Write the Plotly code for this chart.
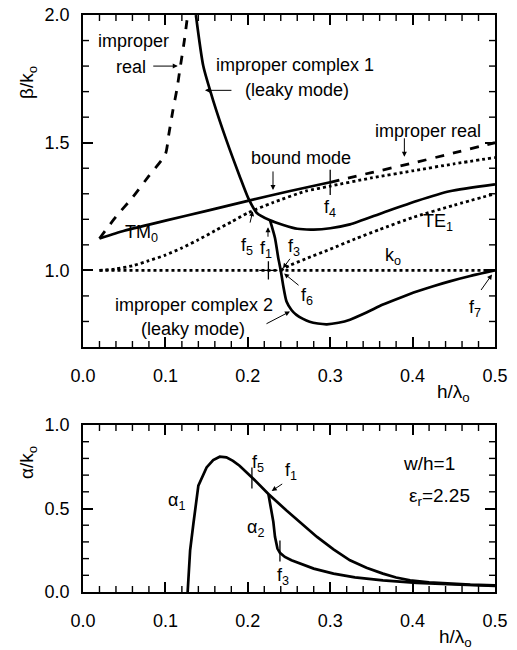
import plotly.graph_objects as go

# ---------------- data ----------------
# top panel: beta/k0 vs h/lambda0
bound_x = [0.02, 0.05, 0.10, 0.15, 0.20, 0.25, 0.30]
bound_y = [1.125, 1.155, 1.195, 1.233, 1.272, 1.310, 1.345]

imp_real_r_x = [0.30, 0.35, 0.40, 0.45, 0.50]
imp_real_r_y = [1.345, 1.383, 1.42, 1.46, 1.50]

imp_real_l_x = [0.02, 0.04, 0.06, 0.08, 0.10, 0.104, 0.109, 0.114, 0.118, 0.123, 0.127]
imp_real_l_y = [1.125, 1.21, 1.285, 1.37, 1.455, 1.53, 1.625, 1.71, 1.795, 1.90, 2.0]

complex1_x = [0.137, 0.146, 0.158, 0.174, 0.19, 0.201, 0.211, 0.227, 0.243, 0.26, 0.28,
              0.30, 0.324, 0.364, 0.405, 0.445, 0.50]
complex1_y = [2.0, 1.80, 1.665, 1.51, 1.37, 1.28, 1.225, 1.196, 1.178, 1.163, 1.16,
              1.165, 1.18, 1.226, 1.272, 1.31, 1.337]

complex2_x = [0.227, 0.233, 0.237, 0.240, 0.243, 0.247, 0.253, 0.259, 0.267, 0.275, 0.285,
              0.296, 0.31, 0.324, 0.344, 0.364, 0.385, 0.405, 0.425, 0.445, 0.47, 0.50]
complex2_y = [1.196, 1.127, 1.048, 1.0, 0.94, 0.878, 0.845, 0.826, 0.81, 0.799, 0.792,
              0.789, 0.795, 0.807, 0.835, 0.866, 0.893, 0.917, 0.938, 0.957, 0.978, 1.0]

tm0_x = [0.02, 0.04, 0.06, 0.08, 0.10, 0.12, 0.14, 0.16, 0.18, 0.20, 0.23, 0.27, 0.30,
         0.35, 0.40, 0.45, 0.50]
tm0_y = [1.0, 1.006, 1.018, 1.038, 1.06, 1.088, 1.12, 1.155, 1.19, 1.225, 1.265, 1.31, 1.33,
         1.362, 1.39, 1.417, 1.442]

te1_x = [0.24, 0.25, 0.27, 0.30, 0.33, 0.36, 0.40, 0.45, 0.50]
te1_y = [1.0, 1.018, 1.045, 1.083, 1.123, 1.16, 1.207, 1.255, 1.30]

k0_x = [0.02, 0.50]
k0_y = [1.0, 1.0]

top_marks_x = [0.30]
top_marks_y = [1.345]
cross_x = [0.225]
cross_y = [1.0]

# bottom panel: alpha/k0 vs h/lambda0
alpha1_x = [0.127, 0.128, 0.130, 0.134, 0.140, 0.150, 0.158, 0.166, 0.174, 0.182, 0.19,
            0.207, 0.225, 0.247, 0.263, 0.284, 0.304, 0.324, 0.344, 0.364, 0.38, 0.397,
            0.42, 0.445, 0.47, 0.50]
alpha1_y = [0.0, 0.10, 0.25, 0.41, 0.637, 0.746, 0.79, 0.81, 0.806, 0.785, 0.756,
            0.677, 0.587, 0.488, 0.418, 0.33, 0.255, 0.19, 0.145, 0.11, 0.087, 0.07,
            0.058, 0.05, 0.044, 0.04]

alpha2_x = [0.225, 0.228, 0.231, 0.233, 0.236, 0.239, 0.245, 0.253, 0.263, 0.28, 0.304,
            0.33, 0.364, 0.405, 0.45, 0.50]
alpha2_y = [0.587, 0.51, 0.42, 0.33, 0.26, 0.235, 0.21, 0.19, 0.17, 0.14, 0.11,
            0.088, 0.07, 0.055, 0.045, 0.036]

bot_marks_x = [0.205, 0.239]
bot_marks_y = [0.683, 0.245]

# axis ranges and tick positions
x_range = [0, 0.5]
beta_range = [0.7, 2.0]
alpha_range = [0, 1.0]
x_minor_ticks = [round(i * 0.02, 2) for i in range(1, 25) if i % 5]
beta_minor_ticks = [round(0.7 + i * 0.1, 1) for i in range(1, 13) if (i + 2) % 5]
alpha_minor_ticks = [round(i * 0.1, 1) for i in range(1, 10) if i % 5]

# ---------------- figure ----------------
FONT = "Liberation Sans, Arial, Helvetica, sans-serif"
fig = go.Figure()

def line(x, y, dash="solid", width=2.7, xa="x", ya="y", shape="spline"):
    fig.add_trace(go.Scatter(x=x, y=y, mode="lines", xaxis=xa, yaxis=ya,
                             line=dict(color="black", width=width, dash=dash,
                                       shape=shape, smoothing=0.6),
                             showlegend=False, hoverinfo="skip"))

# top
line(k0_x, k0_y, dash="dot", width=2.8, shape="linear")
line(tm0_x, tm0_y, dash="dot", width=2.8)
line(te1_x, te1_y, dash="dot", width=2.8)
line(bound_x, bound_y)
line(imp_real_r_x, imp_real_r_y, dash="dash", width=2.8)
line(imp_real_l_x, imp_real_l_y, dash="dash", width=2.8)
line(complex1_x, complex1_y)
line(complex2_x, complex2_y)
fig.add_trace(go.Scatter(x=top_marks_x, y=top_marks_y, mode="markers", xaxis="x", yaxis="y",
                         marker=dict(symbol="line-ns", size=18, line=dict(width=1.3, color="black")),
                         showlegend=False, hoverinfo="skip"))
fig.add_trace(go.Scatter(x=cross_x, y=cross_y, mode="markers", xaxis="x", yaxis="y",
                         marker=dict(symbol="cross-thin", size=13, line=dict(width=1.3, color="black")),
                         showlegend=False, hoverinfo="skip"))

# bottom
line(alpha1_x, alpha1_y, xa="x2", ya="y2", shape="linear")
line(alpha2_x, alpha2_y, xa="x2", ya="y2", shape="linear")
fig.add_trace(go.Scatter(x=bot_marks_x, y=bot_marks_y, mode="markers", xaxis="x2", yaxis="y2",
                         marker=dict(symbol="line-ns", size=15, line=dict(width=1.3, color="black")),
                         showlegend=False, hoverinfo="skip"))

axis_common = dict(showline=True, linecolor="black", linewidth=1.6, mirror="allticks",
                   ticks="inside", ticklen=10, tickwidth=1.5, tickcolor="black",
                   showgrid=False, zeroline=False, automargin=False,
                   ticklabeloverflow="allow",
                   tickfont=dict(family=FONT, size=18, color="black"))

# page has an 8px body margin; figure sized so the plot area lands where the reference has it
W, H = 509, 642
ML, MR, MT, MB = 75, 22, 7, 58
top_dom = [0.4246, 1.0]
bot_dom = [0, 0.2894]

fig.update_layout(
    width=W, height=H,
    margin=dict(l=ML, r=MR, t=MT, b=MB, autoexpand=False),
    paper_bgcolor="white", plot_bgcolor="white",
    font=dict(family=FONT, color="black"),
    xaxis=dict(axis_common, domain=[0, 1], anchor="y", range=x_range, dtick=0.1,
               tickformat=".1f", ticklabelstandoff=12),
    yaxis=dict(axis_common, domain=top_dom, anchor="x", range=beta_range,
               dtick=0.5, tick0=0, tickformat=".1f", ticklabelstandoff=8),
    xaxis2=dict(axis_common, domain=[0, 1], anchor="y2", range=x_range, dtick=0.1,
                tickformat=".1f", ticklabelstandoff=12),
    yaxis2=dict(axis_common, domain=bot_dom, anchor="x2", range=alpha_range,
                dtick=0.5, tickformat=".1f", ticklabelstandoff=8),
)

# short (minor) ticks, drawn inside on all four sides of each panel
TL = 6
shapes = []
def vtick(xr, yr, xv, yv, direction):
    shapes.append(dict(type="line", xref=xr, yref=yr, x0=xv, x1=xv,
                       ysizemode="pixel", yanchor=yv, y0=0, y1=direction * TL,
                       line=dict(color="black", width=1.4)))

def htick(xr, yr, xv, yv, direction):
    shapes.append(dict(type="line", xref=xr, yref=yr, y0=yv, y1=yv,
                       xsizemode="pixel", xanchor=xv, x0=0, x1=direction * TL,
                       line=dict(color="black", width=1.4)))

for xr, yr, yrange in (("x", "y", beta_range), ("x2", "y2", alpha_range)):
    for v in x_minor_ticks:
        vtick(xr, yr, v, yrange[0], 1)
        vtick(xr, yr, v, yrange[1], -1)
for v in beta_minor_ticks:
    htick("x", "y", x_range[0], v, 1)
    htick("x", "y", x_range[1], v, -1)
for v in alpha_minor_ticks:
    htick("x2", "y2", x_range[0], v, 1)
    htick("x2", "y2", x_range[1], v, -1)

anns = []
def text(x, y, s, xr="x", yr="y", size=18, angle=0):
    anns.append(dict(x=x, y=y, xref=xr, yref=yr, text=s, showarrow=False,
                     xanchor="center", yanchor="middle",
                     textangle=angle, font=dict(family=FONT, size=size, color="black")))

def arrow(x, y, ax, ay, xr="x", yr="y"):
    anns.append(dict(x=x, y=y, xref=xr, yref=yr, text="", showarrow=True,
                     ax=ax, ay=ay, axref="pixel", ayref="pixel",
                     arrowhead=2, arrowsize=1, arrowwidth=1, arrowcolor="black"))

# top labels
text(0.0607, 1.90, "improper")
text(0.058, 1.795, "real")
arrow(0.115, 1.80, -26, 0)
text(0.257, 1.803, "improper complex 1")
text(0.26, 1.705, "(leaky mode)")
arrow(0.148, 1.705, 28, 0)
text(0.419, 1.547, "improper real")
arrow(0.39, 1.445, 0, -20)
text(0.265, 1.441, "bound mode")
arrow(0.2306, 1.315, 0, -20)
text(0.30, 1.244, "f<sub>4</sub>")
text(0.0704, 1.146, "TM<sub>0</sub>")
text(0.431, 1.189, "TE<sub>1</sub>")
text(0.376, 1.055, "k<sub>o</sub>")
text(0.199, 1.094, "f<sub>5</sub>")
arrow(0.206, 1.232, -3, 13)
text(0.222, 1.083, "f<sub>1</sub>")
arrow(0.2245, 1.169, 0, 11)
text(0.256, 1.09, "f<sub>3</sub>")
arrow(0.2427, 1.008, 8, -11)
text(0.272, 0.898, "f<sub>6</sub>")
arrow(0.244, 0.988, 16, 13)
text(0.476, 0.85, "f<sub>7</sub>")
arrow(0.4964, 0.984, -12, 17)
text(0.1347, 0.866, "improper complex 2")
text(0.1335, 0.772, "(leaky mode)")
arrow(0.2512, 0.839, -25, 13)

# bottom labels
text(0.113, 0.539, "α<sub>1</sub>", "x2", "y2")
text(0.209, 0.383, "α<sub>2</sub>", "x2", "y2")
text(0.212, 0.772, "f<sub>5</sub>", "x2", "y2")
text(0.252, 0.719, "f<sub>1</sub>", "x2", "y2")
arrow(0.229, 0.605, 12, -8, "x2", "y2")
text(0.243, 0.09, "f<sub>3</sub>", "x2", "y2")
text(0.42, 0.772, "w/h=1", "x2", "y2", size=19)
text(0.433, 0.569, "ε<sub>r</sub>=2.25", "x2", "y2", size=19)

PW = W - ML - MR
PH = H - MT - MB
def ptext(px, py, s, angle=0, size=19):
    # page-pixel position (reference picture) converted to paper coords
    xp = (px - 8 - ML) / PW
    yp = (8 + H - MB - py) / PH
    anns.append(dict(x=xp, y=yp, xref="paper", yref="paper", text=s, showarrow=False,
                     xanchor="center", yanchor="middle",
                     textangle=angle, font=dict(family=FONT, size=size, color="black")))

ptext(28, 83, "β/k<sub>o</sub>", angle=-90)
ptext(28, 463, "α/k<sub>o</sub>", angle=-90)
ptext(453, 393, "h/λ<sub>o</sub>")
ptext(455, 638, "h/λ<sub>o</sub>")

fig.update_layout(annotations=anns, shapes=shapes)
fig.write_html("out.html")
